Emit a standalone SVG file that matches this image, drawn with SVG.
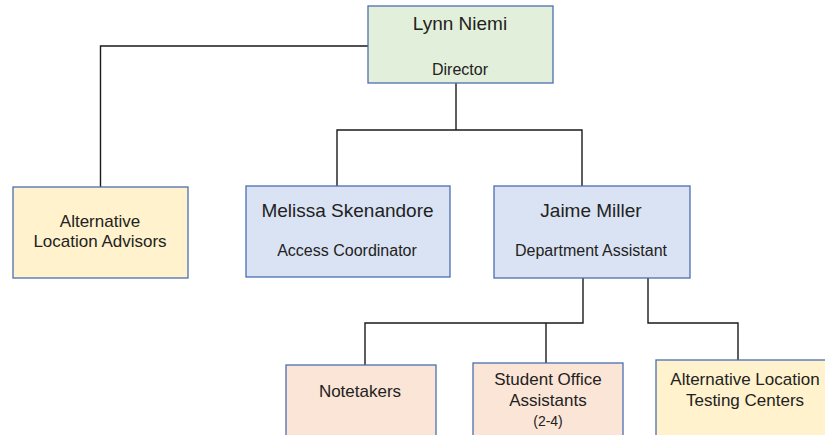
<svg xmlns="http://www.w3.org/2000/svg" width="825" height="435" viewBox="0 0 825 435">
<style>
.box{stroke:#4a6fb0;stroke-width:1.3}
.g{fill:#e2efda}.b{fill:#dae3f3}.y{fill:#fff2cc}.p{fill:#fbe5d6}
.c{fill:none;stroke:#1a1a1a;stroke-width:1.4}
text{font-family:"Liberation Sans",Arial,sans-serif;fill:#222;text-anchor:middle}
.n{font-size:19px}.t{font-size:16px}.l{font-size:17px}.s{font-size:14px}
</style>
<rect width="825" height="435" fill="#fff"/>
<g id="connectors">
<path class="c" d="M368,46H100.5V187"/>
<path class="c" d="M456,83V130"/>
<path class="c" d="M337,186V130H582V186"/>
<path class="c" d="M583,278V323H365V365"/>
<path class="c" d="M546,323V363"/>
<path class="c" d="M648,278V323H738V360"/>
</g>
<g id="lynn">
<rect class="box g" x="368" y="6" width="185" height="77"/>
<text class="n" x="460" y="30">Lynn Niemi</text>
<text class="t" x="460" y="75">Director</text>
</g>
<g id="alt-advisors">
<rect class="box y" x="13" y="187" width="175" height="91"/>
<text class="l" x="100" y="227">Alternative</text>
<text class="l" x="100" y="247">Location Advisors</text>
</g>
<g id="melissa">
<rect class="box b" x="246" y="186" width="204" height="91"/>
<text class="n" x="347.5" y="217">Melissa Skenandore</text>
<text class="t" x="347" y="256">Access Coordinator</text>
</g>
<g id="jaime">
<rect class="box b" x="494" y="186" width="196" height="92"/>
<text class="n" x="591" y="217">Jaime Miller</text>
<text class="t" x="591" y="256">Department Assistant</text>
</g>
<g id="notetakers">
<rect class="box p" x="286" y="365" width="150" height="80"/>
<text class="l" x="360" y="397">Notetakers</text>
</g>
<g id="student-assistants">
<rect class="box p" x="473" y="363" width="150" height="82"/>
<text class="l" x="548" y="385">Student Office</text>
<text class="l" x="548" y="406">Assistants</text>
<text class="s" x="548" y="426">(2-4)</text>
</g>
<g id="alt-testing">
<rect class="box y" x="656" y="360" width="180" height="85"/>
<text class="l" x="745" y="385">Alternative Location</text>
<text class="l" x="745" y="406">Testing Centers</text>
</g>
</svg>
